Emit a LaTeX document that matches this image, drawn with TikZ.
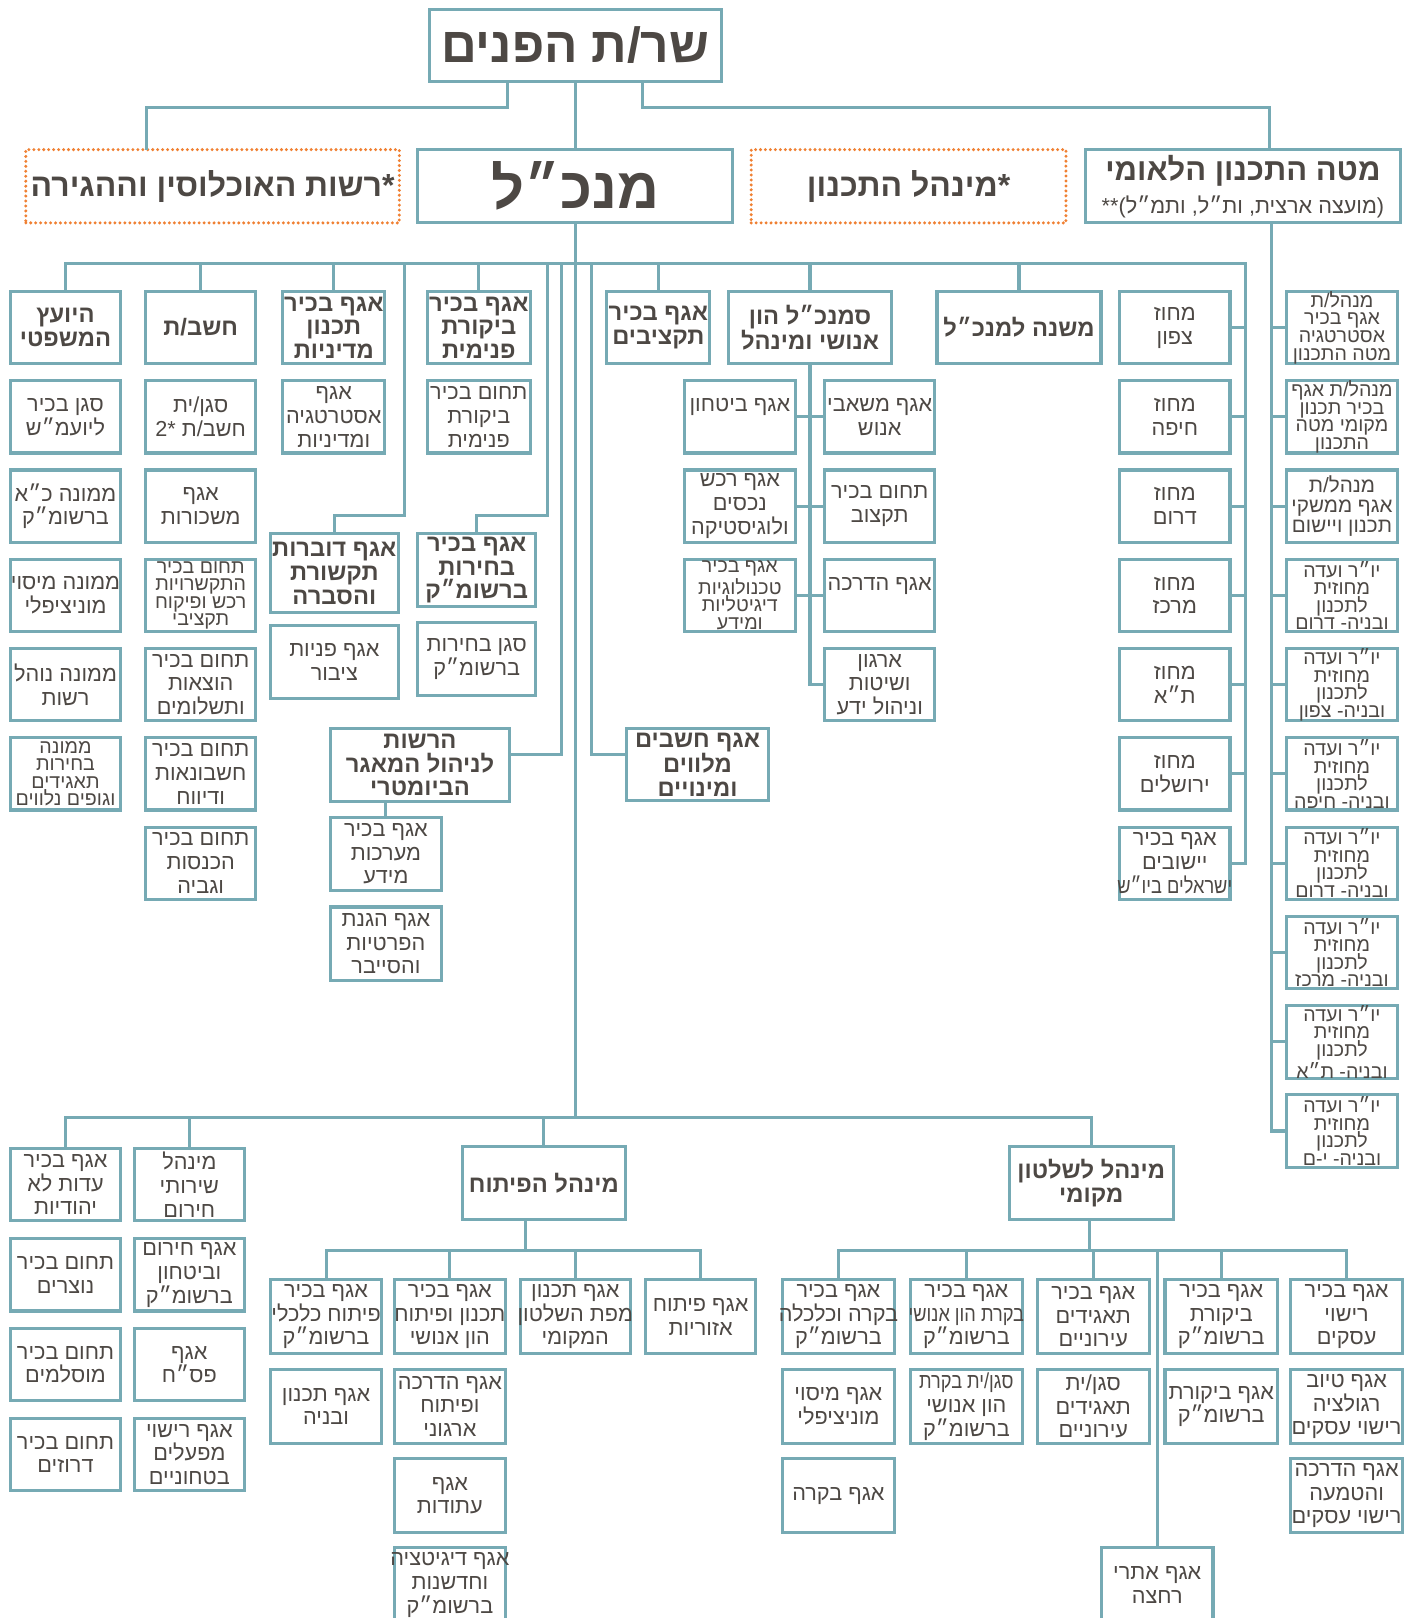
\documentclass[tikz,border=0pt]{standalone}
\usepackage{graphicx}
\usepackage{fontspec}
\newfontfamily\hebfont[Script=Hebrew]{Liberation Sans}
\TeXXeTstate=1

\definecolor{boxline}{RGB}{118,170,180}
\definecolor{ink}{RGB}{77,72,68}
\definecolor{accent}{RGB}{240,128,50}

% one right-to-left line, centred on the box
\newcommand{\hb}[1]{\makebox[0pt]{\beginR#1\endR}}
% a condensed right-to-left line
\newcommand{\hbn}[1]{\makebox[0pt]{\scalebox{0.84}[1]{\beginR#1\endR}}}

\tikzset{
  link/.style={boxline,line width=1.5pt},
  unitbox/.style={draw=boxline,line width=1.5pt,fill=white,text=ink,inner sep=0pt,
    align=center,minimum width=53.5pt,minimum height=35pt,
    font=\hebfont\fontsize{10.5}{11.5}\selectfont},
  tightbox/.style={unitbox,font=\hebfont\fontsize{9.5}{8.5}\selectfont},
  headbox/.style={unitbox,font=\hebfont\bfseries\fontsize{11.5}{11.5}\selectfont},
  dotbox/.style={unitbox,draw=accent,dash pattern=on 0pt off 2.4pt,line cap=round,
    line width=1.6pt,minimum width=152.5pt,minimum height=35.5pt,
    font=\hebfont\bfseries\fontsize{15.5}{17}\selectfont},
}

\begin{document}
\begin{tikzpicture}[x=0.5pt,y=-0.5pt]
\path[use as bounding box,fill=white] (0,0) rectangle (1361,1568);

% minister
\node[headbox,minimum width=141.5pt,font=\hebfont\bfseries\fontsize{24}{24}\selectfont]
  (minister) at (557.5,44) {\hb{שר/ת הפנים}};

% directors level
\node[dotbox,minimum width=181pt] (pop) at (206,180.5) {\hb{*רשות האוכלוסין וההגירה}};
\node[headbox,minimum width=152.5pt,minimum height=35.5pt,
  font=\hebfont\bfseries\fontsize{28}{28}\selectfont] (mankal) at (557.5,180.5) {\hb{מנכ״ל}};
\node[dotbox] (planadmin) at (880.5,180.5) {\hb{*מינהל התכנון}};
\node[headbox,minimum width=152.5pt,minimum height=35.5pt,
  font=\hebfont\bfseries\fontsize{15}{16}\selectfont] (staff) at (1204.5,180.5)
  {\hb{מטה התכנון הלאומי}\\\hb{\mdseries\fontsize{10.5}{12}\selectfont(מועצה ארצית, ות״ל, ותמ״ל)**}};

% minister -> directors
\coordinate (minL) at (492,104);
\coordinate (minR) at (623,104);
\coordinate (popx) at (142,145);
\coordinate (staffx) at (1230,145);
\draw[link] (minister.south -| minL) -- (minL) -| (popx);
\draw[link] (minister.south -| minR) -- (minR) -| (staffx);
\draw[link] (minister) -- (mankal);

% units under the director general
\node[headbox] (legal) at (63.5,317.5) {\hb{היועץ}\\\hb{המשפטי}};
\node[headbox] (cfo) at (194.5,317.5) {\hb{חשב/ת}};
\node[headbox,minimum width=49.5pt] (policy) at (323.5,317.5) {\hb{אגף בכיר}\\\hb{תכנון}\\\hb{מדיניות}};
\node[headbox,minimum width=50pt] (audit) at (464,317.5) {\hb{אגף בכיר}\\\hb{ביקורת}\\\hb{פנימית}};
\node[headbox,minimum width=50pt] (budget) at (638,317.5) {\hb{אגף בכיר}\\\hb{תקציבים}};
\node[headbox,minimum width=79pt] (hr) at (785,317.5) {\hb{סמנכ״ל הון}\\\hb{אנושי ומינהל}};
\node[headbox,minimum width=79.5pt] (deputy) at (987.5,317.5) {\hb{משנה למנכ״ל}};

% legal advisor
\node[unitbox] (legal1) at (63.5,404) {\hb{סגן בכיר}\\\hb{ליועמ״ש}};
\node[unitbox] (legal2) at (63.5,490.5) {\hb{ממונה כ״א}\\\hb{ברשומ״ק}};
\node[unitbox] (legal3) at (63.5,577) {\hb{ממונה מיסוי}\\\hb{מוניציפלי}};
\node[unitbox] (legal4) at (63.5,663.5) {\hb{ממונה נוהל}\\\hb{רשות}};
\node[tightbox] (legal5) at (63.5,750) {\hb{ממונה}\\\hb{בחירות}\\\hb{תאגידים}\\\hb{וגופים נלווים}};

% accountant general
\node[unitbox] (cfo1) at (194.5,404) {\hb{סגן/ית}\\\hb{חשב/ת *2}};
\node[unitbox] (cfo2) at (194.5,490.5) {\hb{אגף}\\\hb{משכורות}};
\node[tightbox] (cfo3) at (194.5,577) {\hb{תחום בכיר}\\\hb{התקשרויות}\\\hb{רכש ופיקוח}\\\hb{תקציבי}};
\node[unitbox] (cfo4) at (194.5,663.5) {\hb{תחום בכיר}\\\hb{הוצאות}\\\hb{ותשלומים}};
\node[unitbox] (cfo5) at (194.5,750) {\hb{תחום בכיר}\\\hb{חשבונאות}\\\hb{ודיווח}};
\node[unitbox] (cfo6) at (194.5,836.5) {\hb{תחום בכיר}\\\hb{הכנסות}\\\hb{וגביה}};

% policy and audit
\node[unitbox,minimum width=49.5pt] (policy1) at (323.5,404) {\hb{אגף}\\\hb{אסטרטגיה}\\\hb{ומדיניות}};
\node[unitbox,minimum width=50pt] (audit1) at (464,404) {\hb{תחום בכיר}\\\hb{ביקורת}\\\hb{פנימית}};

% spokesperson and elections
\node[headbox,minimum width=62pt,minimum height=38.5pt] (spokes) at (324,555.5) {\hb{אגף דוברות}\\\hb{תקשורת}\\\hb{והסברה}};
\node[unitbox,minimum width=62pt,minimum height=35.5pt] (inquiries) at (324,641.5) {\hb{אגף פניות}\\\hb{ציבור}};
\node[headbox,minimum width=57pt,minimum height=35.5pt] (elect) at (462,552.5) {\hb{אגף בכיר}\\\hb{בחירות}\\\hb{ברשומ״ק}};
\node[unitbox,minimum width=57pt,minimum height=35.5pt] (elect1) at (462,638.5) {\hb{סגן בחירות}\\\hb{ברשומ״ק}};

% biometric authority
\node[headbox,minimum width=87pt,minimum height=35.5pt] (bio) at (407,741.5) {\hb{הרשות}\\\hb{לניהול המאגר}\\\hb{הביומטרי}};
\node[unitbox,minimum width=54pt,minimum height=35.5pt] (infosys) at (374,827.5) {\hb{אגף בכיר}\\\hb{מערכות}\\\hb{מידע}};
\node[unitbox,minimum width=54pt,minimum height=35.5pt] (privacy) at (374,914.5) {\hb{אגף הגנת}\\\hb{הפרטיות}\\\hb{והסייבר}};

% accompanying accountants
\node[headbox,minimum width=69pt] (acc) at (676,741) {\hb{אגף חשבים}\\\hb{מלווים}\\\hb{ומינויים}};

% human capital
\node[unitbox,minimum width=54pt] (hrL1) at (717,404) {\hb{אגף ביטחון}\\\mbox{}};
\node[unitbox,minimum width=54pt] (hrL2) at (717,490.5) {\hb{אגף רכש}\\\hb{נכסים}\\\hb{ולוגיסטיקה}};
\node[tightbox,minimum width=54pt] (hrL3) at (717,577) {\hb{אגף בכיר}\\\hb{טכנולוגיות}\\\hb{דיגיטליות}\\\hb{ומידע}};
\node[unitbox] (hrR1) at (852.5,404) {\hb{אגף משאבי}\\\hb{אנוש}};
\node[unitbox] (hrR2) at (852.5,490.5) {\hb{תחום בכיר}\\\hb{תקצוב}};
\node[unitbox] (hrR3) at (852.5,577) {\hb{אגף הדרכה}\\\mbox{}};
\node[unitbox] (hrR4) at (852.5,663.5) {\hb{ארגון}\\\hb{ושיטות}\\\hb{וניהול ידע}};

% districts
\node[unitbox] (dist1) at (1138.5,317.5) {\hb{מחוז}\\\hb{צפון}};
\node[unitbox] (dist2) at (1138.5,404) {\hb{מחוז}\\\hb{חיפה}};
\node[unitbox] (dist3) at (1138.5,490.5) {\hb{מחוז}\\\hb{דרום}};
\node[unitbox] (dist4) at (1138.5,577) {\hb{מחוז}\\\hb{מרכז}};
\node[unitbox] (dist5) at (1138.5,663.5) {\hb{מחוז}\\\hb{ת״א}};
\node[unitbox] (dist6) at (1138.5,750) {\hb{מחוז}\\\hb{ירושלים}};
\node[unitbox] (dist7) at (1138.5,836.5) {\hb{אגף בכיר}\\\hb{יישובים}\\\hbn{ישראלים ביו״ש}};

% planning staff
\node[tightbox] (plan1) at (1300.5,317.5) {\hb{מנהל/ת}\\\hb{אגף בכיר}\\\hb{אסטרטגיה}\\\hb{מטה התכנון}};
\node[tightbox] (plan2) at (1300.5,404) {\hb{מנהל/ת אגף}\\\hb{בכיר תכנון}\\\hb{מקומי מטה}\\\hb{התכנון}};
\node[unitbox,font=\hebfont\fontsize{10}{9.5}\selectfont] (plan3) at (1300.5,490.5) {\hb{מנהל/ת}\\\hb{אגף ממשקי}\\\hb{תכנון ויישום}};
\node[tightbox] (plan4) at (1300.5,577) {\hb{יו״ר ועדה}\\\hb{מחוזית}\\\hb{לתכנון}\\\hb{ובניה- דרום}};
\node[tightbox] (plan5) at (1300.5,663.5) {\hb{יו״ר ועדה}\\\hb{מחוזית}\\\hb{לתכנון}\\\hb{ובניה- צפון}};
\node[tightbox] (plan6) at (1300.5,750) {\hb{יו״ר ועדה}\\\hb{מחוזית}\\\hb{לתכנון}\\\hb{ובניה- חיפה}};
\node[tightbox] (plan7) at (1300.5,836.5) {\hb{יו״ר ועדה}\\\hb{מחוזית}\\\hb{לתכנון}\\\hb{ובניה- דרום}};
\node[tightbox] (plan8) at (1300.5,923) {\hb{יו״ר ועדה}\\\hb{מחוזית}\\\hb{לתכנון}\\\hb{ובניה- מרכז}};
\node[tightbox] (plan9) at (1300.5,1009.5) {\hb{יו״ר ועדה}\\\hb{מחוזית}\\\hb{לתכנון}\\\hb{ובניה- ת״א}};
\node[tightbox] (plan10) at (1300.5,1096) {\hb{יו״ר ועדה}\\\hb{מחוזית}\\\hb{לתכנון}\\\hb{ובניה- י-ם}};

% top bus
\coordinate (topbus) at (557.5,255);
\draw[link] (mankal) -- (topbus);
\draw[link] (topbus) -| (legal.north);
\draw[link] (topbus) -| (cfo.north);
\draw[link] (topbus) -| (policy.north);
\draw[link] (topbus) -| (audit.north);
\draw[link] (topbus) -| (budget.north);
\draw[link] (topbus) -| (hr.north);
\draw[link] (topbus) -| (deputy.north);

% bent lines off the top bus
\coordinate (spokesbend) at (392,500);
\coordinate (electbend) at (531,500);
\coordinate (biobend) at (544,731);
\coordinate (accbend) at (573,731);
\draw[link] (topbus) -| (spokesbend) -| (spokes.north);
\draw[link] (topbus) -| (electbend) -| (elect.north);
\draw[link] (topbus) -| (biobend) -- (biobend -| bio.east);
\draw[link] (topbus) -| (accbend) -- (accbend -| acc.west);
\draw[link] (bio.south -| infosys.north) -- (infosys.north);

% human capital tree
\draw[link] (hr.south) |- (hrR4.west);
\draw[link] (hrL1.east) -- (hrR1.west);
\draw[link] (hrL2.east) -- (hrR2.west);
\draw[link] (hrL3.east) -- (hrR3.west);

% districts line
\coordinate (distx) at (1207,255);
\draw[link] (topbus) -- (distx) |- (dist7.east);
\draw[link] (dist1.east) -- (dist1.east -| distx);
\draw[link] (dist2.east) -- (dist2.east -| distx);
\draw[link] (dist3.east) -- (dist3.east -| distx);
\draw[link] (dist4.east) -- (dist4.east -| distx);
\draw[link] (dist5.east) -- (dist5.east -| distx);
\draw[link] (dist6.east) -- (dist6.east -| distx);

% planning staff line
\coordinate (planx) at (1232,216);
\draw[link] (planx) |- (plan10.west);
\draw[link] (plan1.west) -- (plan1.west -| planx);
\draw[link] (plan2.west) -- (plan2.west -| planx);
\draw[link] (plan3.west) -- (plan3.west -| planx);
\draw[link] (plan4.west) -- (plan4.west -| planx);
\draw[link] (plan5.west) -- (plan5.west -| planx);
\draw[link] (plan6.west) -- (plan6.west -| planx);
\draw[link] (plan7.west) -- (plan7.west -| planx);
\draw[link] (plan8.west) -- (plan8.west -| planx);
\draw[link] (plan9.west) -- (plan9.west -| planx);

% lower administrations
\node[unitbox] (nonjew) at (63.5,1148) {\hb{אגף בכיר}\\\hb{עדות לא}\\\hb{יהודיות}};
\node[unitbox] (christ) at (63.5,1235.5) {\hb{תחום בכיר}\\\hb{נוצרים}};
\node[unitbox] (muslim) at (63.5,1322.5) {\hb{תחום בכיר}\\\hb{מוסלמים}};
\node[unitbox] (druze) at (63.5,1409.5) {\hb{תחום בכיר}\\\hb{דרוזים}};
\node[unitbox] (emerg) at (183.5,1148) {\hb{מינהל}\\\hb{שירותי}\\\hb{חירום}};
\node[unitbox] (emerg1) at (183.5,1235.5) {\hb{אגף חירום}\\\hb{וביטחון}\\\hb{ברשומ״ק}};
\node[unitbox] (emerg2) at (183.5,1322.5) {\hb{אגף}\\\hb{פס״ח}};
\node[unitbox] (emerg3) at (183.5,1409.5) {\hb{אגף רישוי}\\\hb{מפעלים}\\\hb{בטחוניים}};
\node[headbox,minimum width=79pt,minimum height=35.5pt] (devadmin) at (527,1146.5) {\hb{מינהל הפיתוח}};
\node[headbox,minimum width=79.5pt,minimum height=35.5pt] (localgov) at (1057.5,1146.5) {\hb{מינהל לשלטון}\\\hb{מקומי}};

% lower bus
\coordinate (lowbus) at (557.5,1083);
\draw[link] (topbus) -- (lowbus);
\draw[link] (lowbus) -| (nonjew.north);
\draw[link] (lowbus) -| (emerg.north);
\draw[link] (lowbus) -| (devadmin.north);
\draw[link] (lowbus) -| (localgov.north);

% development administration
\node[unitbox,minimum height=36pt] (dev1) at (316,1276) {\hb{אגף בכיר}\\\hb{פיתוח כלכלי}\\\hb{ברשומ״ק}};
\node[unitbox,minimum height=36pt] (dev1b) at (316,1363) {\hb{אגף תכנון}\\\hb{ובניה}};
\node[unitbox,minimum height=36pt] (dev2) at (436,1276) {\hb{אגף בכיר}\\\hb{תכנון ופיתוח}\\\hb{הון אנושי}};
\node[unitbox,minimum height=36pt] (dev2b) at (436,1363) {\hb{אגף הדרכה}\\\hb{ופיתוח}\\\hb{ארגוני}};
\node[unitbox,minimum height=36pt] (dev2c) at (436,1449.5) {\hb{אגף}\\\hb{עתודות}};
\node[unitbox,minimum height=36pt] (dev2d) at (436,1536) {\hb{אגף דיגיטציה}\\\hb{וחדשנות}\\\hb{ברשומ״ק}};
\node[unitbox,minimum height=36pt] (dev3) at (557.5,1276) {\hb{אגף תכנון}\\\hb{מפת השלטון}\\\hb{המקומי}};
\node[unitbox,minimum height=36pt] (dev4) at (679,1276) {\hb{אגף פיתוח}\\\hb{אזוריות}};

\coordinate (devbus) at (509,1212);
\draw[link] (devadmin.south -| devbus) -- (devbus);
\draw[link] (devbus) -| (dev1.north);
\draw[link] (devbus) -| (dev2.north);
\draw[link] (devbus) -| (dev3.north);
\draw[link] (devbus) -| (dev4.north);

% local government administration
\node[unitbox,minimum width=54.5pt,minimum height=36pt] (loc1) at (812.5,1276) {\hb{אגף בכיר}\\\hb{בקרה וכלכלה}\\\hb{ברשומ״ק}};
\node[unitbox,minimum width=54.5pt,minimum height=36pt] (loc1b) at (812.5,1363) {\hb{אגף מיסוי}\\\hb{מוניציפלי}};
\node[unitbox,minimum width=54.5pt,minimum height=36pt] (loc1c) at (812.5,1449.5) {\hb{אגף בקרה}};
\node[unitbox,minimum width=54.5pt,minimum height=36pt] (loc2) at (936.5,1276) {\hb{אגף בכיר}\\\hbn{בקרת הון אנושי}\\\hb{ברשומ״ק}};
\node[unitbox,minimum width=54.5pt,minimum height=36pt] (loc2b) at (936.5,1363) {\hbn{סגן/ית בקרת}\\\hb{הון אנושי}\\\hb{ברשומ״ק}};
\node[unitbox,minimum width=54.5pt,minimum height=36pt] (loc3) at (1059.5,1276) {\hb{אגף בכיר}\\\hb{תאגידים}\\\hb{עירוניים}};
\node[unitbox,minimum width=54.5pt,minimum height=36pt] (loc3b) at (1059.5,1363) {\hb{סגן/ית}\\\hb{תאגידים}\\\hb{עירוניים}};
\node[unitbox,minimum width=54.5pt,minimum height=36pt] (loc4) at (1183.5,1276) {\hb{אגף בכיר}\\\hb{ביקורת}\\\hb{ברשומ״ק}};
\node[unitbox,minimum width=54.5pt,minimum height=36pt] (loc4b) at (1183.5,1363) {\hb{אגף ביקורת}\\\hb{ברשומ״ק}};
\node[unitbox,minimum width=54pt,minimum height=36pt] (loc5) at (1305,1276) {\hb{אגף בכיר}\\\hb{רישוי}\\\hb{עסקים}};
\node[unitbox,minimum width=54pt,minimum height=36pt] (loc5b) at (1305,1363) {\hb{אגף טיוב}\\\hb{רגולציה}\\\hb{רישוי עסקים}};
\node[unitbox,minimum width=54pt,minimum height=36pt] (loc5c) at (1305,1449.5) {\hb{אגף הדרכה}\\\hb{והטמעה}\\\hb{רישוי עסקים}};
\node[unitbox,minimum width=54pt,minimum height=36pt] (baths) at (1121.5,1536) {\hb{אגף אתרי}\\\hb{רחצה}};

\coordinate (locbus) at (1056,1212);
\draw[link] (localgov.south -| locbus) -- (locbus);
\draw[link] (locbus) -| (loc1.north);
\draw[link] (locbus) -| (loc2.north);
\draw[link] (locbus) -| (loc3.north);
\draw[link] (locbus) -| (loc4.north);
\draw[link] (locbus) -| (loc5.north);
\draw[link] (locbus) -| (baths.north);
\end{tikzpicture}
\end{document}
